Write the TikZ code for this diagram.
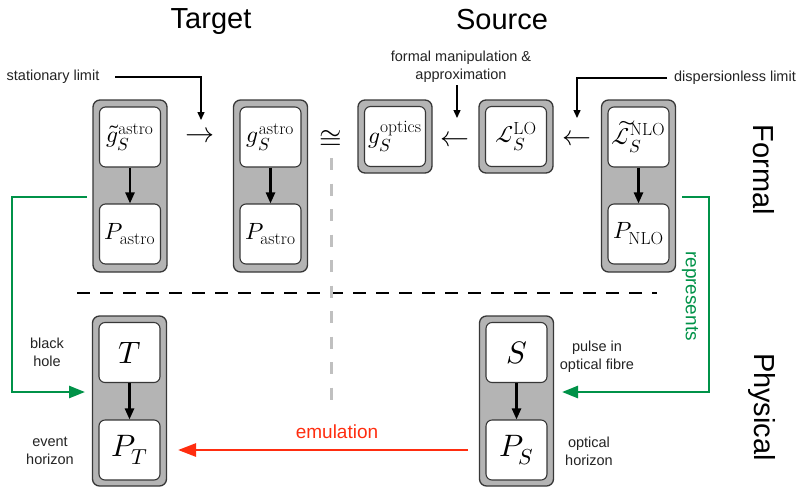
\documentclass[tikz,border=0pt]{standalone}
\usepackage{fontspec}
\usepackage{unicode-math}
\setmathfont{Latin Modern Math}
\DeclareMathSizes{23.5}{23.5}{17.5}{13}
\newfontfamily\hv{Liberation Sans}
\usetikzlibrary{arrows.meta,calc}
\definecolor{boxgray}{RGB}{180,180,180}
\definecolor{edgecol}{RGB}{55,55,55}
\definecolor{grn}{RGB}{0,146,72}
\definecolor{rd}{RGB}{255,45,15}
\definecolor{dgray}{RGB}{192,192,192}
\definecolor{txt}{RGB}{35,35,35}
\begin{document}
\begin{tikzpicture}[x=1pt,y=-1pt,
 outerbox/.style={draw=edgecol, fill=boxgray, rounded corners=7pt, line width=1.3pt, minimum width=74pt, inner sep=0pt},
 innerbox/.style={draw=edgecol, fill=white, rounded corners=6pt, line width=1.1pt, minimum width=61pt, minimum height=60pt, inner sep=0pt, font=\fontsize{23.5}{28}\selectfont},
 physbox/.style={innerbox, font=\fontsize{31}{36}\selectfont},
 lbl/.style={font=\hv\fontsize{14.5}{18}\selectfont, align=center, text=txt},
 head/.style={font=\hv\fontsize{29}{34}\selectfont, text=black},
 rel/.style={font=\fontsize{29}{34}\selectfont, inner sep=0pt},
 flow/.style={-{Triangle[length=11pt,width=9pt]}, line width=2.4pt, draw=black},
 note/.style={-{Triangle[length=8pt,width=7pt]}, line width=1.4pt, draw=black},
 rep/.style={draw=grn, line width=2.6pt, -{Triangle[length=16pt,width=12pt]}},
 emu/.style={draw=rd, line width=2.7pt, -{Triangle[length=18pt,width=13pt]}}
]
\useasboundingbox (0,0) rectangle (799,488);

% headings
\node[head, anchor=base] (tgt) at (211,28) {Target};
\node[head, anchor=base] (src) at (502,29) {Source};
\node[head, rotate=-90] (fml) at (764,170) {Formal};
\node[head, rotate=-90] (phy) at (762,407) {Physical};

% dashed separators
\coordinate (dL) at (77,293);
\coordinate (dR) at (657,293);
\draw[line width=2.8pt, dash pattern=on 13pt off 10pt] (dL) -- (dR);
\coordinate (vT) at (331.5,158);
\coordinate (vB) at (331.5,402);
\draw[dgray, line width=2.7pt, dash pattern=on 12pt off 13.5pt] (vT) -- (vB);

% formal boxes
\node[outerbox, minimum height=172pt] (A) at (130,186) {};
\node[innerbox] (A1) at (130,137) {$\tilde{g}_S^{\mathrm{astro}}$};
\node[innerbox] (A2) at (130,234) {$P_{\mathrm{astro}}$};
\draw[flow] (A1) -- (A2);

\node[outerbox, minimum height=172pt] (B) at (270.5,186) {};
\node[innerbox] (B1) at (270.5,137) {$g_S^{\mathrm{astro}}$};
\node[innerbox] (B2) at (270.5,234) {$P_{\mathrm{astro}}$};
\draw[flow] (B1) -- (B2);

\node[outerbox, minimum height=73pt] (C) at (395,136.5) {};
\node[innerbox] (C1) at (395,136.5) {$g_S^{\mathrm{optics}}$};

\node[outerbox, minimum height=73pt] (D) at (516,136.5) {};
\node[innerbox] (D1) at (516,136.5) {$\mathcal{L}_S^{\mathrm{LO}}$};

\node[outerbox, minimum height=172pt] (E) at (638.5,186) {};
\node[innerbox] (E1) at (638.5,137) {$\widetilde{\mathcal{L}}_S^{\mathrm{NLO}}$};
\node[innerbox] (E2) at (638.5,234) {$P_{\mathrm{NLO}}$};
\draw[flow] (E1) -- (E2);

% physical boxes
\node[outerbox, minimum height=170pt] (F) at (129.5,401) {};
\node[physbox] (F1) at (129.5,352.5) {$T$};
\node[physbox] (F2) at (129.5,450) {$P_T$};
\draw[flow] (F1) -- (F2);

\node[outerbox, minimum height=170pt] (G) at (516.5,401) {};
\node[physbox] (G1) at (516.5,352.5) {$S$};
\node[physbox] (G2) at (516.5,450) {$P_S$};
\draw[flow] (G1) -- (G2);

% relation symbols
\node[rel] (r1) at (200,135) {$\rightarrow$};
\node[rel] (r2) at (331,138) {$\cong$};
\node[rel] (r3) at (455,139) {$\leftarrow$};
\node[rel] (r4) at (577,138) {$\leftarrow$};

% labels
\node[lbl] (stat) at (53,77) {stationary limit};
\node[lbl] (fm) at (461,67) {formal manipulation \&\\approximation};
\node[lbl] (disp) at (735,78) {dispersionless limit};
\node[lbl] (bh) at (47,352) {black\\hole};
\node[lbl] (eh) at (50,451) {event\\horizon};
\node[lbl] (pf) at (597,357) {pulse in\\optical fibre};
\node[lbl] (oh) at (589,451) {optical\\horizon};

% thin annotation arrows
\coordinate (stE) at (115,77);
\coordinate (stT) at (201,120);
\draw[note] (stE) -| (stT);
\coordinate (fmS) at (457,85);
\coordinate (fmT) at (457,118);
\draw[note] (fmS) -- (fmT);
\coordinate (dsE) at (667,78);
\coordinate (dsT) at (577,118);
\draw[note] (dsE) -| (dsT);

% represents (green)
\coordinate (gA) at (87,197);
\coordinate (gAt) at (85,392);
\draw[rep] (gA) -- ++(-75,0) |- (gAt);
\coordinate (gE) at (682,197);
\coordinate (gEt) at (562,392);
\draw[rep] (gE) -- ++(27,0) |- (gEt);
\node[rotate=-90, font=\hv\fontsize{19}{22}\selectfont, text=grn] (rp) at (690,296) {represents};

% emulation (red)
\coordinate (emS) at (468,450);
\coordinate (emT) at (178,450);
\draw[emu] (emS) -- (emT);
\node[font=\hv\fontsize{19}{22}\selectfont, text=rd, anchor=base] (em) at (337,438) {emulation};
\end{tikzpicture}
\end{document}
